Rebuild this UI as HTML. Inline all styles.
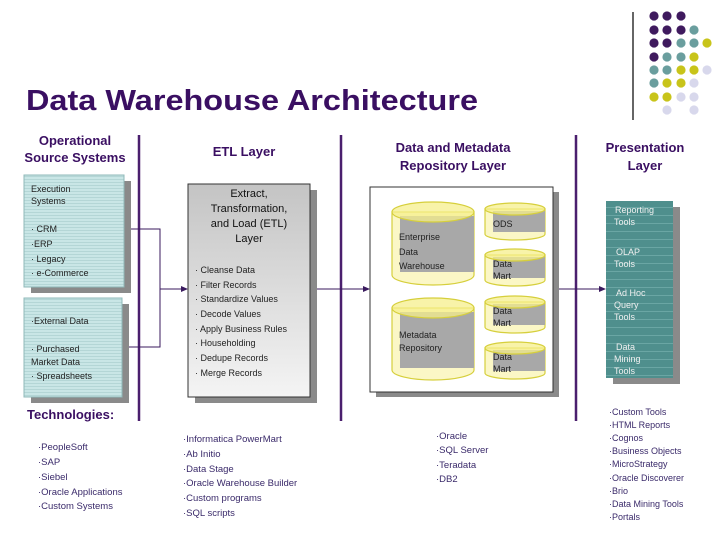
<!DOCTYPE html>
<html><head><meta charset="utf-8"><style>
html,body{margin:0;padding:0;background:#fff;}
svg{display:block;font-family:"Liberation Sans",Arial,sans-serif;}
</style></head><body>
<svg width="728" height="546" viewBox="0 0 728 546" xmlns="http://www.w3.org/2000/svg">
<defs>
<pattern id="lines" width="4" height="3" patternUnits="userSpaceOnUse"><rect width="4" height="3" fill="#c9e6e6"/><rect y="2" width="4" height="1" fill="#b4d6d6"/></pattern>
<linearGradient id="etl" x1="0" y1="0" x2="0" y2="1"><stop offset="0" stop-color="#c4c4c4"/><stop offset="1" stop-color="#f4f4f4"/></linearGradient>
<pattern id="tl" width="4" height="8" patternUnits="userSpaceOnUse"><rect width="4" height="8" fill="#4f8f8d"/><rect y="7" width="4" height="1" fill="#6aa6a4"/></pattern>
</defs>
<!-- dots -->
<line x1="633" y1="12" x2="633" y2="120" stroke="#000" stroke-width="1.2"/>
<g>
<circle cx="654" cy="16" r="4.6" fill="#3f1a5e"/><circle cx="667" cy="16" r="4.6" fill="#3f1a5e"/><circle cx="681" cy="16" r="4.6" fill="#3f1a5e"/>
<circle cx="654" cy="30" r="4.6" fill="#3f1a5e"/><circle cx="667" cy="30" r="4.6" fill="#3f1a5e"/><circle cx="681" cy="30" r="4.6" fill="#3f1a5e"/><circle cx="694" cy="30" r="4.6" fill="#6a9e9e"/>
<circle cx="654" cy="43" r="4.6" fill="#3f1a5e"/><circle cx="667" cy="43" r="4.6" fill="#3f1a5e"/><circle cx="681" cy="43" r="4.6" fill="#6a9e9e"/><circle cx="694" cy="43" r="4.6" fill="#6a9e9e"/><circle cx="707" cy="43" r="4.6" fill="#c8c41a"/>
<circle cx="654" cy="57" r="4.6" fill="#3f1a5e"/><circle cx="667" cy="57" r="4.6" fill="#6a9e9e"/><circle cx="681" cy="57" r="4.6" fill="#6a9e9e"/><circle cx="694" cy="57" r="4.6" fill="#c8c41a"/>
<circle cx="654" cy="70" r="4.6" fill="#6a9e9e"/><circle cx="667" cy="70" r="4.6" fill="#6a9e9e"/><circle cx="681" cy="70" r="4.6" fill="#c8c41a"/><circle cx="694" cy="70" r="4.6" fill="#c8c41a"/><circle cx="707" cy="70" r="4.6" fill="#d8d8ec"/>
<circle cx="654" cy="83" r="4.6" fill="#6a9e9e"/><circle cx="667" cy="83" r="4.6" fill="#c8c41a"/><circle cx="681" cy="83" r="4.6" fill="#c8c41a"/><circle cx="694" cy="83" r="4.6" fill="#d8d8ec"/>
<circle cx="654" cy="97" r="4.6" fill="#c8c41a"/><circle cx="667" cy="97" r="4.6" fill="#c8c41a"/><circle cx="681" cy="97" r="4.6" fill="#d8d8ec"/><circle cx="694" cy="97" r="4.6" fill="#d8d8ec"/>
<circle cx="667" cy="110" r="4.6" fill="#d8d8ec"/><circle cx="694" cy="110" r="4.6" fill="#d8d8ec"/>
</g>
<text x="26" y="110" font-size="29" font-weight="bold" fill="#3a0f62" textLength="452" lengthAdjust="spacingAndGlyphs">Data Warehouse Architecture</text>
<!-- separators -->
<g stroke="#4a1f6e" stroke-width="2.5">
<line x1="139" y1="135" x2="139" y2="421"/><line x1="341" y1="135" x2="341" y2="421"/><line x1="576" y1="135" x2="576" y2="421"/>
</g>
<!-- headers -->
<g font-size="13" font-weight="bold" fill="#3a0f62" text-anchor="middle">
<text x="75" y="145">Operational</text><text x="75" y="162">Source Systems</text>
<text x="244" y="156">ETL Layer</text>
<text x="453" y="152">Data and Metadata</text><text x="453" y="170">Repository Layer</text>
<text x="645" y="152">Presentation</text><text x="645" y="170">Layer</text>
</g>
<!-- connectors -->
<g stroke="#3a1a5e" stroke-width="1" fill="none">
<polyline points="124,229 160,229 160,347 124,347"/>
<line x1="160" y1="289" x2="184" y2="289"/>
<line x1="310" y1="289" x2="366" y2="289"/>
<line x1="553" y1="289" x2="602" y2="289"/>
</g>
<g fill="#3a1a5e"><polygon points="188,289 181,286 181,292"/><polygon points="370,289 363,286 363,292"/><polygon points="606,289 599,286 599,292"/></g>
<!-- source boxes -->
<rect x="31" y="181" width="100" height="112" fill="#8a8a8a"/>
<rect x="24" y="175" width="100" height="112" fill="url(#lines)" stroke="#8fb8b8"/>
<rect x="31" y="304" width="98" height="99" fill="#8a8a8a"/>
<rect x="24" y="298" width="98" height="99" fill="url(#lines)" stroke="#8fb8b8"/>
<g font-size="9" fill="#222">
<text x="31" y="192">Execution</text><text x="31" y="204">Systems</text>
<text x="31" y="232">· CRM</text><text x="31" y="247">·ERP</text><text x="31" y="262">· Legacy</text><text x="31" y="276">· e-Commerce</text>
<text x="31" y="324">·External Data</text>
<text x="31" y="352">· Purchased</text><text x="31" y="365">Market Data</text><text x="31" y="379">· Spreadsheets</text>
</g>
<!-- ETL -->
<rect x="195" y="190" width="122" height="213" fill="#8a8a8a"/>
<rect x="188" y="184" width="122" height="213" fill="url(#etl)" stroke="#333"/>
<g font-size="11" fill="#111" text-anchor="middle">
<text x="249" y="197">Extract,</text><text x="249" y="212">Transformation,</text><text x="249" y="227">and Load (ETL)</text><text x="249" y="242">Layer</text>
</g>
<g font-size="9" fill="#222">
<text x="195" y="273">· Cleanse Data</text><text x="195" y="288">· Filter Records</text><text x="195" y="302">· Standardize Values</text><text x="195" y="317">· Decode Values</text><text x="195" y="332">· Apply Business Rules</text><text x="195" y="346">· Householding</text><text x="195" y="361">· Dedupe Records</text><text x="195" y="376">· Merge Records</text>
</g>
<!-- repo -->
<rect x="376" y="192" width="183" height="205" fill="#8a8a8a"/>
<rect x="370" y="187" width="183" height="205" fill="#fff" stroke="#333"/>
<g stroke="#d6cf3c" stroke-width="1.2">
<!-- big cyl 1 -->
<path d="M392,212 L392,275 A41,10 0 0 0 474,275 L474,212 Z" fill="#fbf7c6"/>
<rect x="400" y="216" width="74" height="56" fill="#a8a8a8" stroke="none"/>
<ellipse cx="433" cy="212" rx="41" ry="10" fill="#f5ef8c" fill-opacity="0.75"/>
<!-- big cyl 2 -->
<path d="M392,308 L392,370 A41,10 0 0 0 474,370 L474,308 Z" fill="#fbf7c6"/>
<rect x="400" y="312" width="74" height="56" fill="#a8a8a8" stroke="none"/>
<ellipse cx="433" cy="308" rx="41" ry="10" fill="#f5ef8c" fill-opacity="0.75"/>
<!-- small -->
<path d="M485,209 L485,234 A30,6 0 0 0 545,234 L545,209 Z" fill="#fbf7c6"/><rect x="493" y="211" width="52" height="21" fill="#a8a8a8" stroke="none"/><ellipse cx="515" cy="209" rx="30" ry="6" fill="#f5ef8c" fill-opacity="0.75"/>
<path d="M485,255 L485,280 A30,6 0 0 0 545,280 L545,255 Z" fill="#fbf7c6"/><rect x="493" y="257" width="52" height="21" fill="#a8a8a8" stroke="none"/><ellipse cx="515" cy="255" rx="30" ry="6" fill="#f5ef8c" fill-opacity="0.75"/>
<path d="M485,302 L485,327 A30,6 0 0 0 545,327 L545,302 Z" fill="#fbf7c6"/><rect x="493" y="304" width="52" height="21" fill="#a8a8a8" stroke="none"/><ellipse cx="515" cy="302" rx="30" ry="6" fill="#f5ef8c" fill-opacity="0.75"/>
<path d="M485,348 L485,373 A30,6 0 0 0 545,373 L545,348 Z" fill="#fbf7c6"/><rect x="493" y="350" width="52" height="21" fill="#a8a8a8" stroke="none"/><ellipse cx="515" cy="348" rx="30" ry="6" fill="#f5ef8c" fill-opacity="0.75"/>
</g>
<g font-size="9" fill="#222">
<text x="399" y="240">Enterprise</text><text x="399" y="255">Data</text><text x="399" y="269">Warehouse</text>
<text x="399" y="338">Metadata</text><text x="399" y="351">Repository</text>
<text x="493" y="227">ODS</text>
<text x="493" y="267">Data</text><text x="493" y="279">Mart</text>
<text x="493" y="314">Data</text><text x="493" y="326">Mart</text>
<text x="493" y="360">Data</text><text x="493" y="372">Mart</text>
</g>
<!-- presentation -->
<rect x="613" y="207" width="67" height="177" fill="#8a8a8a"/>
<rect x="606" y="201" width="67" height="177" fill="url(#tl)"/>
<g font-size="9" fill="#f0f0f0">
<text x="615" y="213">Reporting</text><text x="614" y="225">Tools</text>
<text x="616" y="255">OLAP</text><text x="614" y="267">Tools</text>
<text x="616" y="296">Ad Hoc</text><text x="614" y="308">Query</text><text x="614" y="320">Tools</text>
<text x="616" y="350">Data</text><text x="614" y="362">Mining</text><text x="614" y="374">Tools</text>
</g>
<!-- technologies -->
<text x="27" y="419" font-size="13" font-weight="bold" fill="#3a0f62">Technologies:</text>
<g font-size="9.5" fill="#3a2a6a">
<text x="38" y="450">·PeopleSoft</text><text x="38" y="465">·SAP</text><text x="38" y="480">·Siebel</text><text x="38" y="495">·Oracle Applications</text><text x="38" y="509">·Custom Systems</text>
<text x="183" y="442">·Informatica PowerMart</text><text x="183" y="457">·Ab Initio</text><text x="183" y="472">·Data Stage</text><text x="183" y="486">·Oracle Warehouse Builder</text><text x="183" y="501">·Custom programs</text><text x="183" y="516">·SQL scripts</text>
<text x="436" y="439">·Oracle</text><text x="436" y="453">·SQL Server</text><text x="436" y="468">·Teradata</text><text x="436" y="482">·DB2</text>
</g>
<g font-size="9" fill="#3a2a6a">
<text x="609" y="415">·Custom Tools</text><text x="609" y="428">·HTML Reports</text><text x="609" y="441">·Cognos</text><text x="609" y="454">·Business Objects</text><text x="609" y="467">·MicroStrategy</text><text x="609" y="481">·Oracle Discoverer</text><text x="609" y="494">·Brio</text><text x="609" y="507">·Data Mining Tools</text><text x="609" y="520">·Portals</text>
</g>
</svg>
</body></html>
